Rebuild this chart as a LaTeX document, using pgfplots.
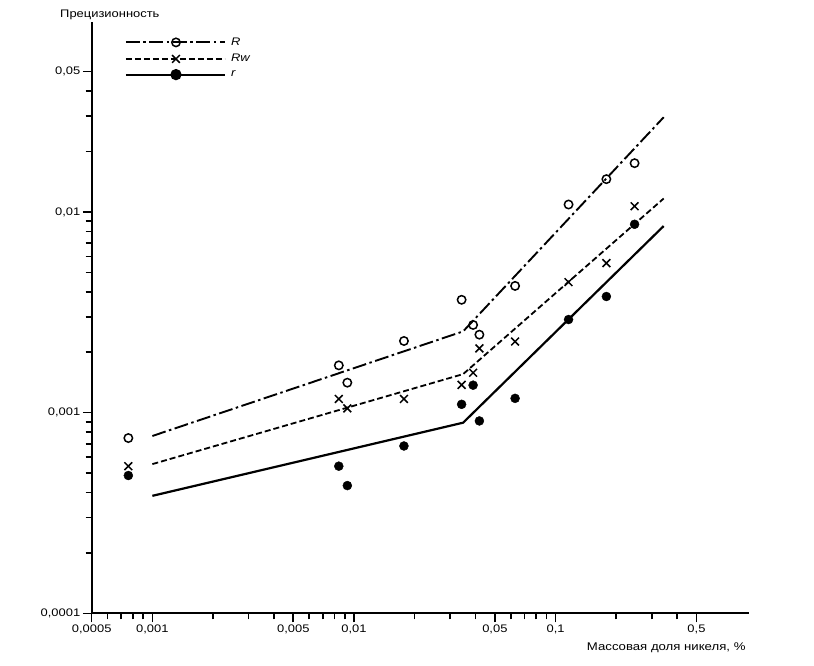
\documentclass[border=0pt]{standalone}
\usepackage{fontspec}
\setmainfont{Liberation Sans}[FakeStretch=1.18]
\usepackage{pgfplots}
\usepackage{pgfplotstable}
\pgfplotsset{compat=1.18}

% measured points: x, R, Rw, r
\pgfplotstableread{
x        R        Rw       r
0.00076  0.000747 0.000541 0.000486
0.00841  0.00172  0.00117  0.000541
0.00927  0.00141  0.00105  0.000433
0.0177   0.002275 0.00117  0.000682
0.0342   0.00365  0.001375 0.0011
0.0390   0.002735 0.00158  0.00137
0.0419   0.002446 0.00209  0.000909
0.0630   0.00428  0.00226  0.001178
0.116    0.01089  0.00447  0.00291
0.1787   0.01457  0.00556  0.00379
0.2466   0.0175   0.01068  0.00868
}\points

% fitted lines
\pgfplotstableread{
x       R        Rw       r
0.001   0.000765 0.000554 0.000385
0.0348  0.00254  0.001556 0.000891
0.344   0.02965  0.01167  0.00851
}\lines

\begin{document}
\begin{tikzpicture}
\useasboundingbox (-91.7bp,-52.7bp) rectangle (722.3bp,613.3bp);
\begin{axis}[
  at={(0,0)}, anchor=south west,
  scale only axis, width=657.3bp, height=591.6bp,
  xmode=log, ymode=log,
  xmin=0.0005, xmax=0.911, ymin=0.0001, ymax=0.0887,
  axis lines=left,
  axis line style={-, line width=2bp},
  tick align=outside,
  major tick length=9bp, minor tick length=6bp,
  tick style={black, line width=1.6bp},
  xtick={0.0005,0.001,0.005,0.01,0.05,0.1,0.5},
  xticklabels={{0,0005},{0,001},{0,005},{0,01},{0,05},{0,1},{0,5}},
  minor xtick={0.0006,0.0007,0.0008,0.0009,0.002,0.003,0.004,0.006,0.007,0.008,0.009,0.02,0.03,0.04,0.06,0.07,0.08,0.09,0.2,0.3,0.4},
  ytick={0.0001,0.001,0.01,0.05},
  yticklabels={{0,0001},{0,001},{0,01},{0,05}},
  minor ytick={0.0002,0.0003,0.0004,0.0005,0.0006,0.0007,0.0008,0.0009,0.002,0.003,0.004,0.005,0.006,0.007,0.008,0.009,0.02,0.03,0.04},
  tick label style={font=\fontsize{11}{13}\selectfont},
  xticklabel style={yshift=1bp},
  yticklabel style={xshift=1bp},
  xlabel={Массовая доля никеля, \%},
  every axis x label/.style={at={(axis description cs:1,0)}, anchor=base east, yshift=-36.7bp, font=\fontsize{11.2}{13}\selectfont},
  ylabel={Прецизионность},
  every axis y label/.style={at={(axis description cs:0,1)}, anchor=base west, xshift=-35bp, yshift=4.7bp, font=\fontsize{11}{13}\selectfont},
  clip=false,
  legend style={draw=none, fill=none, at={(axis description cs:0,1)}, anchor=north west, xshift=30bp, yshift=-12bp, font=\fontsize{11}{13}\itshape, row sep=3.5bp, /tikz/every odd column/.append style={column sep=3bp}},
  legend cell align=left,
  legend image code/.code={\draw[mark repeat=2,mark phase=2,#1] plot coordinates {(0bp,0bp) (50bp,0bp) (99bp,0bp)};},
]
% legend images
\addlegendimage{black, line width=1.9bp, dash pattern=on 14bp off 3.5bp on 2.5bp off 3.5bp, mark=o, mark size=4.2bp, mark options={solid, line width=1.5bp, fill=white}}
\addlegendentry{R}
\addlegendimage{black, line width=1.8bp, dash pattern=on 6bp off 3bp, mark=x, mark size=5.5bp, mark options={solid, line width=1.5bp}}
\addlegendentry{Rw}
\addlegendimage{black, line width=2.2bp, mark=*, mark size=4.5bp}
\addlegendentry{r}

% lines
\addplot[black, line width=1.9bp, dash pattern=on 14bp off 3.5bp on 2.5bp off 3.5bp, forget plot] table[x=x, y=R] {\lines};
\addplot[black, line width=1.8bp, dash pattern=on 6bp off 3bp, forget plot] table[x=x, y=Rw] {\lines};
\addplot[black, line width=2.2bp, forget plot] table[x=x, y=r] {\lines};

% points
\addplot[only marks, mark=o, mark size=4.2bp, mark options={black, line width=1.5bp, fill=white}, forget plot] table[x=x, y=R] {\points};
\addplot[only marks, mark=x, mark size=5.5bp, mark options={black, line width=1.5bp}, forget plot] table[x=x, y=Rw] {\points};
\addplot[only marks, mark=*, mark size=4.5bp, mark options={black}, forget plot] table[x=x, y=r] {\points};
\end{axis}
\end{tikzpicture}
\end{document}
